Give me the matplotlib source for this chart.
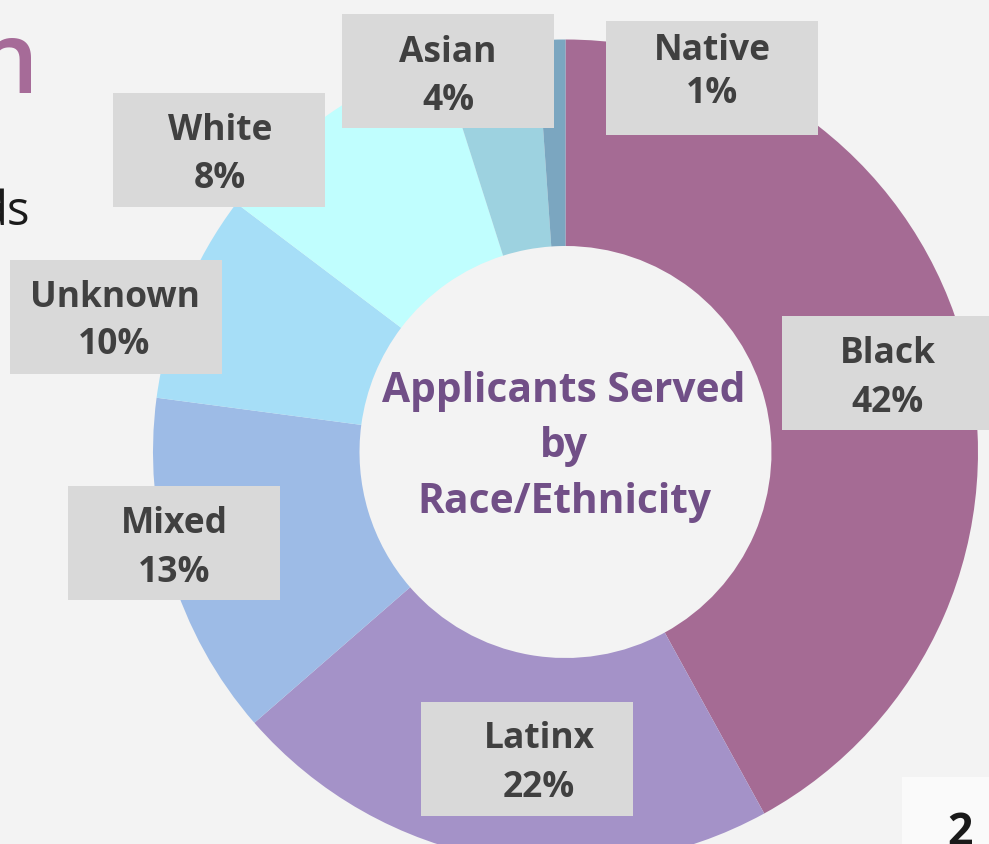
import matplotlib
matplotlib.use("Agg")
import matplotlib.pyplot as plt
from matplotlib.patches import Rectangle

# ---- data ----
categories = ["Black", "Latinx", "Mixed", "Unknown", "White", "Asian", "Native"]
values = [42.0, 21.6, 13.5, 8.2, 9.8, 3.8, 1.1]          # wedge sizes as drawn
label_pcts = ["42%", "22%", "13%", "10%", "8%", "4%", "1%"]  # printed labels
colors = ["#a56b94", "#a492c8", "#9dbbe6", "#a6def7", "#c0fefe", "#9dd2e0", "#7ba6c0"]
center_title = ["Applicants Served", "by", "Race/Ethnicity"]

W, H = 989, 845
BG = "#f3f3f3"
fig = plt.figure(figsize=(W / 100, H / 100), dpi=100, facecolor=BG)
ax = fig.add_axes([0, 0, 1, 1])
ax.set_facecolor(BG)

def Y(y):
    return H - y

cx, cy, R = 565.5, 453.0, 412.5
ax.pie(values, colors=colors, startangle=90, counterclock=False,
       radius=R, center=(cx, Y(cy)), frame=True,
       wedgeprops=dict(width=R - 206.0, linewidth=0))

# label boxes: (box_left, box_top, text_cx, baseline1, baseline2)
boxes = {
    "Black":   (782, 317, 888, 363.3, 411.7),
    "Latinx":  (421, 703, 539, 748.3, 797.3),
    "Mixed":   (68, 487, 174, 533.3, 582.3),
    "Unknown": (10, 261, 114.5, 306.7, 354.3),
    "White":   (113, 94, 220, 140.0, 188.3),
    "Asian":   (342, 15, 448, 62.3, 110.0),
    "Native":  (606, 22, 712, 60.5, 103.0),
}
BW, BH = 212, 114
FONT = "Open Sans"
for cat, pct in zip(categories, label_pcts):
    bl, bt, tcx, b1, b2 = boxes[cat]
    ax.add_patch(Rectangle((bl, Y(bt + BH)), BW, BH, facecolor="#d9d9d9",
                           edgecolor="none", zorder=5))
    ax.text(tcx, Y(b1), cat, ha="center", va="baseline", fontsize=25.5,
            fontweight="bold", family=FONT, color="#404040", zorder=6)
    ax.text(tcx, Y(b2), pct, ha="center", va="baseline", fontsize=25.5,
            fontweight="bold", family=FONT, color="#404040", zorder=6)

# center title
for line, base in zip(center_title, [401.7, 456.7, 513.3]):
    ax.text(564, Y(base), line, ha="center", va="baseline", fontsize=29.3,
            fontweight="bold", family=FONT, color="#714f87", zorder=6)

# slide fragments
ax.text(39, Y(93), "n", ha="right", va="baseline", fontsize=71,
        fontweight="semibold", family=FONT, color="#a66b98", zorder=6)
ax.text(30, Y(225), "ds", ha="right", va="baseline", fontsize=34,
        family=FONT, color="#1a1a1a", zorder=6)
ax.add_patch(Rectangle((902, Y(845)), 90, 845 - 777.7, facecolor="#fafafa",
                       edgecolor="none", zorder=5))
ax.text(947, Y(845), "2", ha="left", va="baseline", fontsize=32,
        fontweight="bold", family=FONT, color="#1a1a1a", zorder=6)

ax.set_xlim(0, W)
ax.set_ylim(0, H)
ax.set_aspect("auto")
ax.axis("off")

fig.savefig("out.png", dpi=100, facecolor=BG)
